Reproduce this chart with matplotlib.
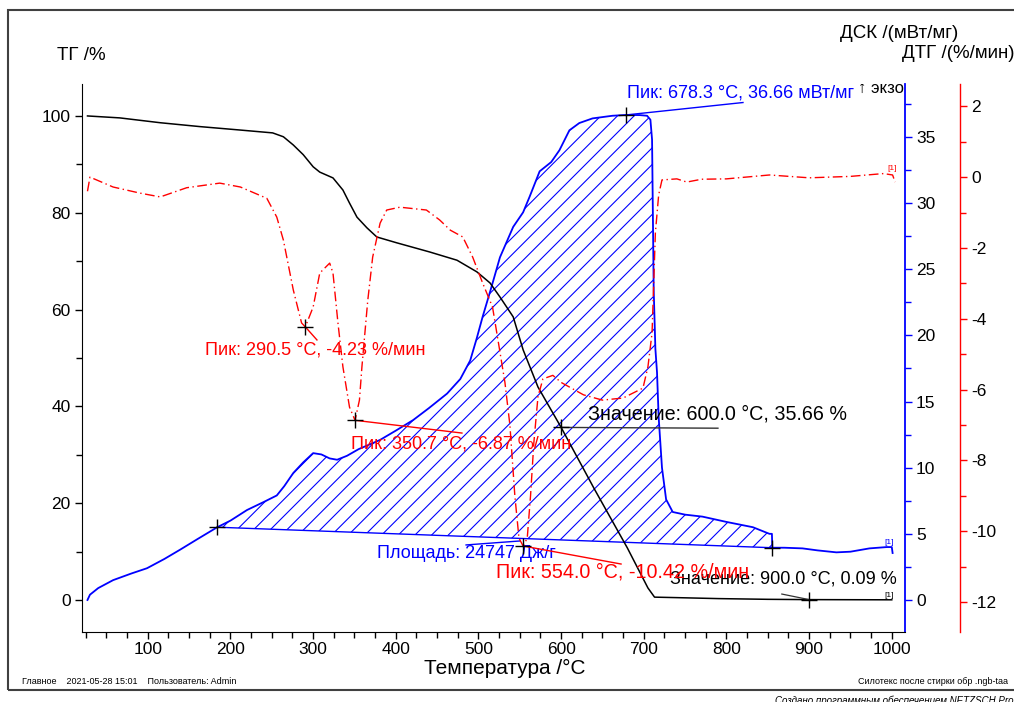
import matplotlib
matplotlib.use("Agg")
import matplotlib.pyplot as plt
from matplotlib.ticker import MultipleLocator
from matplotlib.patches import Rectangle

plt.rcParams['font.family'] = ['Liberation Sans', 'DejaVu Sans']
plt.rcParams['hatch.linewidth'] = 0.8
plt.rcParams['axes.unicode_minus'] = False

# ---------------- data ----------------
TG_T = [27, 66, 115, 163, 211, 251, 264, 276, 288, 300, 308, 324, 336, 344, 353, 365, 377,
        401, 441, 474, 498, 514, 526, 542, 554, 572, 600, 640, 680, 705, 713, 740, 790, 850,
        900, 1000]
TG_V = [100, 99.6, 98.6, 97.8, 97.1, 96.5, 95.7, 94.0, 92.0, 89.5, 88.4, 87.2, 84.7, 82.0,
        79.1, 76.9, 75.0, 73.8, 71.9, 70.2, 67.8, 65.5, 62.6, 58.5, 51.7, 44.0, 35.66, 23.0,
        10.8, 2.5, 0.6, 0.5, 0.3, 0.15, 0.09, 0.05]

DTG_T = [27, 30, 45, 58, 90, 115, 147, 187, 212, 244, 256, 264, 276, 286, 290.5, 300, 308,
         320, 324, 330, 336, 344, 350.7, 356, 359, 366, 372, 381, 389, 405, 437, 453, 466,
         481, 493, 505, 517, 525, 532, 538, 544, 549, 554, 559, 563, 567, 572, 578, 590, 600,
         627, 650, 675, 699, 705, 710, 712, 714, 718, 722, 740, 752, 770, 800, 852, 900, 950,
         990, 1001, 1004]
DTG_V = [-0.4, 0.0, -0.15, -0.28, -0.45, -0.56, -0.3, -0.17, -0.28, -0.6, -1.13, -1.78,
         -3.19, -4.12, -4.23, -3.67, -2.71, -2.43, -2.71, -4.12, -5.36, -6.5, -6.87, -6.3,
         -5.36, -3.5, -2.26, -1.3, -0.93, -0.85, -0.93, -1.21, -1.5, -1.69, -2.26, -2.99,
         -3.67, -4.8, -5.8, -7.0, -9.0, -10.2, -10.42, -10.2, -9.0, -7.5, -6.2, -5.7, -5.6,
         -5.8, -6.15, -6.3, -6.24, -5.96, -5.36, -4.4, -3.0, -1.58, -0.5, -0.08, -0.05,
         -0.14, -0.06, -0.05, 0.06, -0.02, 0.02, 0.1, 0.06, -0.14]

DSC_T = [27, 30, 40, 58, 80, 99, 120, 139, 160, 184, 200, 220, 240, 256, 265, 276, 288, 300,
         310, 320, 329, 341, 355, 370, 381, 400, 421, 440, 462, 478, 490, 498, 505, 515, 526,
         542, 554, 562, 574, 588, 598, 610, 622, 638, 662, 678.3, 695, 704, 708, 710, 712,
         714, 716, 718, 722, 727, 735, 750, 771, 800, 832, 852, 855, 855.5, 870, 892, 910,
         933, 950, 973, 994, 1000, 1001]
DSC_V = [0.0, 0.4, 0.9, 1.5, 2.0, 2.4, 3.1, 3.8, 4.6, 5.5, 6.0, 6.8, 7.4, 7.9, 8.6, 9.6,
         10.4, 11.1, 11.0, 10.7, 10.6, 10.9, 11.4, 11.8, 12.1, 12.8, 13.6, 14.5, 15.6, 16.7,
         18.1, 19.8, 21.4, 23.5, 25.9, 28.2, 29.3, 30.5, 32.4, 33.1, 34.0, 35.5, 36.05, 36.4,
         36.6, 36.66, 36.65, 36.6, 36.3, 34.8, 23.4, 19.0, 17.2, 13.8, 10.0, 7.6, 6.65, 6.45,
         6.3, 5.9, 5.5, 5.0, 5.0, 3.95, 3.95, 3.9, 3.75, 3.6, 3.65, 3.9, 4.0, 4.0, 3.55]

# area baseline (start / end of integration)
BASE_T = [184, 855]
BASE_V = [5.5, 3.95]

# annotated points
DTG_PEAKS = [(290.5, -4.23), (350.7, -6.87), (554.0, -10.42)]
DSC_PEAK = (678.3, 36.66)
TG_VALUES = [(600.0, 35.66), (900.0, 0.09)]
AREA = 24747

X_TICKS = [100, 200, 300, 400, 500, 600, 700, 800, 900, 1000]
TG_TICKS = [0, 20, 40, 60, 80, 100]
DSC_TICKS = [0, 5, 10, 15, 20, 25, 30, 35]
DTG_TICKS = [-12, -10, -8, -6, -4, -2, 0, 2]

BLUE = '#0000FF'
RED = '#FF0000'

# ---------------- figure ----------------
W, H = 1014, 702
fig = plt.figure(figsize=(W / 100, H / 100), dpi=100)
L, R, T_, B = 81.7, 905, 84, 632
ax = fig.add_axes([L / W, 1 - B / H, (R - L) / W, (B - T_) / H])
ax2 = ax.twinx()
ax3 = ax.twinx()
ax2.set_zorder(1)
ax.set_zorder(2)
ax3.set_zorder(3)
for a in (ax, ax2, ax3):
    a.patch.set_visible(False)

ax.set_xlim(20, 1016)
ax.set_ylim(-6.6, 106.6)
ax2.set_ylim(-2.42, 39.0)
ax3.set_ylim(-12.85, 2.63)

# spines
ax.spines['top'].set_visible(False)
ax.spines['right'].set_visible(False)
for a in (ax2, ax3):
    a.spines['top'].set_visible(False)
    a.spines['left'].set_visible(False)
    a.spines['bottom'].set_visible(False)
ax2.spines['right'].set_color(BLUE)
ax2.spines['right'].set_linewidth(1.3)
ax3.spines['right'].set_position(('axes', (960 - L) / (R - L)))
ax3.spines['right'].set_color(RED)
ax3.spines['right'].set_linewidth(1.0)

FS = 12.5
ax.set_xticks(X_TICKS)
ax.xaxis.set_minor_locator(MultipleLocator(25))
ax.set_yticks(TG_TICKS)
ax.yaxis.set_minor_locator(MultipleLocator(10))
ax.tick_params(axis='both', which='major', direction='out', length=5, width=1,
               labelsize=FS, pad=3)
ax.tick_params(axis='both', which='minor', direction='out', length=4, width=1)
ax.tick_params(axis='x', pad=2)

ax2.set_yticks(DSC_TICKS)
ax2.yaxis.set_minor_locator(MultipleLocator(2.5))
ax2.tick_params(axis='y', which='major', direction='out', length=5, width=1, color=BLUE,
                labelsize=FS, pad=3)
ax2.tick_params(axis='y', which='minor', direction='out', length=4, width=1, color=BLUE)

ax3.set_yticks(DTG_TICKS)
ax3.yaxis.set_minor_locator(MultipleLocator(1))
ax3.tick_params(axis='y', which='major', direction='out', length=5, width=1, color=RED,
                labelsize=FS, pad=3)
ax3.tick_params(axis='y', which='minor', direction='out', length=4, width=1, color=RED)

# ---------------- curves ----------------
# hatched area between DSC and baseline
sel = [(t, v) for t, v in zip(DSC_T, DSC_V) if BASE_T[0] <= t <= BASE_T[1]]
poly_x = [p[0] for p in sel] + [BASE_T[1], BASE_T[0]]
poly_y = [p[1] for p in sel] + [BASE_V[1], BASE_V[0]]
ax2.fill(poly_x, poly_y, facecolor='none', edgecolor=BLUE, hatch='//', linewidth=0)
ax2.plot(BASE_T, BASE_V, color=BLUE, lw=1.0)
ax2.plot(DSC_T, DSC_V, color=BLUE, lw=1.3)

ax.plot(TG_T, TG_V, color='black', lw=1.1)
ax3.plot(DTG_T, DTG_V, color=RED, lw=1.0, linestyle=(0, (7, 2.5, 1, 2.5)))

# markers
ms = dict(marker='+', color='black', ms=11, mew=1.0, ls='none', zorder=10)
ax3.plot([p[0] for p in DTG_PEAKS], [p[1] for p in DTG_PEAKS], **ms)
ax2.plot([DSC_PEAK[0], BASE_T[0], BASE_T[1]], [DSC_PEAK[1], BASE_V[0], BASE_V[1]], **ms)
ax.plot([p[0] for p in TG_VALUES], [p[1] for p in TG_VALUES], **ms)

# ---------------- annotations ----------------
AFS = 13
# DSC peak
ax2.text(679.5, 38.3, f'Пик: {DSC_PEAK[0]:.1f} °C, {DSC_PEAK[1]:.2f} мВт/мг', color=BLUE,
         fontsize=AFS, va='center', ha='left', clip_on=False)
ax2.plot([DSC_PEAK[0], 820], [DSC_PEAK[1], 37.6], color=BLUE, lw=1.0, clip_on=False)
ax2.text(959, 38.65, '↑ экзо', color='black', fontsize=12, va='center', ha='left',
         clip_on=True)

# DTG peaks
texts_dtg = [((169.4, -4.88), (304.6, -4.6), AFS),
             ((345.8, -7.54), (480, -7.23), AFS),
             ((521, -11.15), (672.5, -10.93), 14.2)]
for (px, py), (tpos, lend, fs) in zip(DTG_PEAKS, texts_dtg):
    ax3.text(tpos[0], tpos[1], f'Пик: {px:.1f} °C, {py:.2f} %/мин', color=RED,
             fontsize=fs, va='center', ha='left')
    ax3.plot([px, lend[0]], [py, lend[1]], color=RED, lw=1.0)

# TG values
ax.text(632.4, 38.4, f'Значение: {TG_VALUES[0][0]:.1f} °C, {TG_VALUES[0][1]:.2f} %',
        color='black', fontsize=14.2, va='center', ha='left')
ax.plot([TG_VALUES[0][0], 789.7], [TG_VALUES[0][1], 35.5], color='#333333', lw=1.0)
ax.text(731.5, 4.3, f'Значение: {TG_VALUES[1][0]:.1f} °C, {TG_VALUES[1][1]:.2f} %',
        color='black', fontsize=AFS, va='center', ha='left')
ax.plot([867, TG_VALUES[1][0]], [1.24, TG_VALUES[1][1]], color='#333333', lw=0.9)

# area
ax2.text(377, 3.55, f'Площадь: {AREA} Дж/г', color=BLUE, fontsize=AFS, va='center',
         ha='left')
ax2.plot([485, 550], [4.16, 4.46], color=BLUE, lw=1.0)

# [1] labels
ax3.text(1000, 0.25, '[1]', color=RED, fontsize=6, ha='center', va='center')
ax2.text(997, 4.35, '[1]', color=BLUE, fontsize=6, ha='center', va='center')
ax.text(997, 1.0, '[1]', color='black', fontsize=6, ha='center', va='center')

# ---------------- axis titles ----------------
TFS = 13.5
fig.text(81 / W, 1 - 55 / H, 'ТГ /%', fontsize=TFS, ha='center', va='center')
fig.text(899 / W, 1 - 33 / H, 'ДСК /(мВт/мг)', fontsize=TFS, ha='center', va='center')
fig.text(958 / W, 1 - 53 / H, 'ДТГ /(%/мин)', fontsize=TFS, ha='center', va='center')
fig.text(505 / W, 1 - 668 / H, 'Температура /°C', fontsize=15, ha='center', va='center')

# footer
fig.text(22 / W, 1 - 681 / H, 'Главное    2021-05-28 15:01    Пользователь: Admin',
         fontsize=6.5, ha='left', va='center')
fig.text(1008 / W, 1 - 681 / H, 'Силотекс после стирки обр .ngb-taa', fontsize=6.5,
         ha='right', va='center')
fig.text(775 / W, 1 - 696 / H, 'Создано программным обеспечением NETZSCH Proteus',
         fontsize=7, ha='left', va='top', style='italic')

# outer frame
fig.add_artist(Rectangle((8 / W, 1 - 690 / H), 1.0, (690 - 10) / H, transform=fig.transFigure,
                         fill=False, edgecolor='#404040', lw=1.5))

fig.savefig('out.png', dpi=100)
